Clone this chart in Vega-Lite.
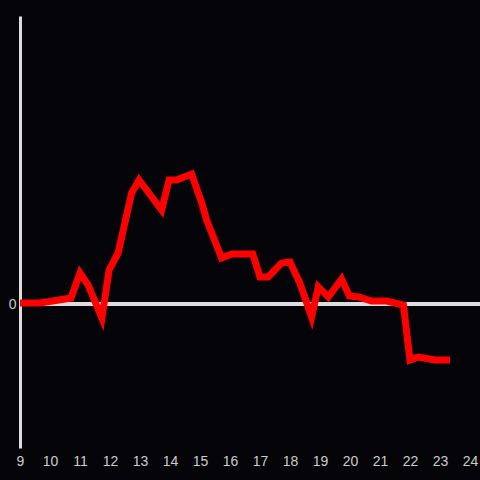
{
  "$schema": "https://vega.github.io/schema/vega-lite/v6.json",
  "width": 460,
  "height": 432,
  "autosize": {"type": "none"},
  "padding": {"left": 20, "top": 16, "right": 0, "bottom": 32},
  "background": "#050408",
  "config": {"view": {"stroke": null}},
  "data": {"values": [
    {"h": 9.0, "v": 1}, {"h": 9.67, "v": 1}, {"h": 10.7, "v": 6}, {"h": 11.0, "v": 31},
    {"h": 11.27, "v": 19}, {"h": 11.73, "v": -14}, {"h": 11.97, "v": 34}, {"h": 12.27, "v": 51},
    {"h": 12.72, "v": 111}, {"h": 12.97, "v": 124}, {"h": 13.72, "v": 94}, {"h": 13.97, "v": 124},
    {"h": 14.22, "v": 124}, {"h": 14.72, "v": 130}, {"h": 15.06, "v": 101}, {"h": 15.22, "v": 84},
    {"h": 15.72, "v": 46}, {"h": 16.06, "v": 50}, {"h": 16.33, "v": 50}, {"h": 16.76, "v": 50},
    {"h": 17.0, "v": 27}, {"h": 17.27, "v": 27}, {"h": 17.72, "v": 41}, {"h": 18.0, "v": 42},
    {"h": 18.33, "v": 21}, {"h": 18.72, "v": -13}, {"h": 18.94, "v": 17}, {"h": 19.28, "v": 7},
    {"h": 19.72, "v": 25}, {"h": 19.98, "v": 8}, {"h": 20.28, "v": 7}, {"h": 20.72, "v": 3},
    {"h": 21.22, "v": 3}, {"h": 21.78, "v": -1}, {"h": 22.0, "v": -56}, {"h": 22.28, "v": -53},
    {"h": 22.83, "v": -56}, {"h": 23.33, "v": -56}
  ]},
  "layer": [
    {
      "mark": {"type": "rule", "color": "#dddddd", "strokeWidth": 3},
      "encoding": {"y": {"datum": 0, "type": "quantitative"}}
    },
    {
      "mark": {"type": "line", "color": "#ff0000", "strokeWidth": 7, "strokeJoin": "miter", "strokeCap": "butt"},
      "encoding": {
        "x": {"field": "h", "type": "quantitative", "scale": {"domain": [9, 24.3333], "nice": false, "zero": false},
          "axis": {"title": null, "values": [9,10,11,12,13,14,15,16,17,18,19,20,21,22,23,24], "domain": false, "ticks": false, "grid": false, "labelColor": "#cccccc", "labelFontSize": 14, "labelFont": "Liberation Sans", "labelPadding": 6, "labelFlush": false, "labelOverlap": false}},
        "y": {"field": "v", "type": "quantitative", "scale": {"domain": [-144, 288], "nice": false},
          "axis": {"title": null, "values": [0], "domain": true, "domainColor": "#dddddd", "domainWidth": 3, "ticks": false, "grid": false, "labelColor": "#cccccc", "labelFontSize": 14, "labelFont": "Liberation Sans", "labelPadding": 4}}
      }
    }
  ]
}
